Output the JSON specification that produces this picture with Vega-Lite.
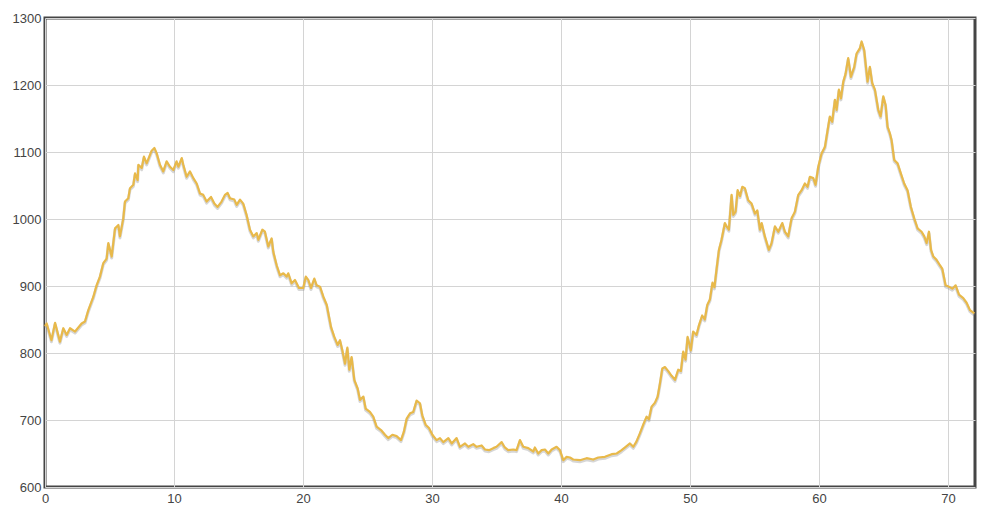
{
  "$schema": "https://vega.github.io/schema/vega-lite/v6.json",
  "width": 930,
  "height": 469,
  "autosize": "none",
  "padding": {"left": 45, "top": 18, "right": 15, "bottom": 28},
  "background": "white",
  "config": {
    "view": {"stroke": "#454545", "strokeWidth": 3},
    "axis": {
      "domain": false,
      "ticks": false,
      "grid": true,
      "gridColor": "#d4d4d4",
      "gridWidth": 1,
      "labelFont": "Liberation Sans",
      "labelFontSize": 13,
      "labelColor": "#444444",
      "title": null
    }
  },
  "data": {
    "values": [
      {"x": 0, "y": 840}, {"x": 0.13, "y": 844}, {"x": 0.5, "y": 819}, {"x": 0.78, "y": 845}, {"x": 1.16, "y": 817},
      {"x": 1.42, "y": 837}, {"x": 1.68, "y": 827}, {"x": 1.94, "y": 837}, {"x": 2.33, "y": 832}, {"x": 2.84, "y": 844},
      {"x": 3.1, "y": 847}, {"x": 3.36, "y": 864}, {"x": 3.75, "y": 884}, {"x": 4.0, "y": 901}, {"x": 4.26, "y": 914},
      {"x": 4.52, "y": 934}, {"x": 4.78, "y": 941}, {"x": 4.91, "y": 964}, {"x": 5.17, "y": 944}, {"x": 5.43, "y": 986},
      {"x": 5.69, "y": 991}, {"x": 5.81, "y": 974}, {"x": 6.07, "y": 1001}, {"x": 6.2, "y": 1026}, {"x": 6.46, "y": 1031},
      {"x": 6.59, "y": 1046}, {"x": 6.85, "y": 1051}, {"x": 6.98, "y": 1068}, {"x": 7.18, "y": 1058}, {"x": 7.24, "y": 1081},
      {"x": 7.5, "y": 1076}, {"x": 7.67, "y": 1093}, {"x": 7.88, "y": 1083}, {"x": 8.27, "y": 1102}, {"x": 8.48, "y": 1106},
      {"x": 8.66, "y": 1098}, {"x": 8.91, "y": 1081}, {"x": 9.17, "y": 1071}, {"x": 9.43, "y": 1086}, {"x": 9.69, "y": 1078},
      {"x": 9.95, "y": 1073}, {"x": 10.2, "y": 1086}, {"x": 10.34, "y": 1078}, {"x": 10.6, "y": 1091}, {"x": 10.72, "y": 1081},
      {"x": 10.98, "y": 1063}, {"x": 11.24, "y": 1071}, {"x": 11.5, "y": 1061}, {"x": 11.76, "y": 1053}, {"x": 12.02, "y": 1038},
      {"x": 12.27, "y": 1036}, {"x": 12.53, "y": 1026}, {"x": 12.87, "y": 1033}, {"x": 13.13, "y": 1023}, {"x": 13.38, "y": 1018},
      {"x": 13.69, "y": 1026}, {"x": 13.95, "y": 1036}, {"x": 14.16, "y": 1039}, {"x": 14.34, "y": 1031}, {"x": 14.68, "y": 1029},
      {"x": 14.86, "y": 1021}, {"x": 15.12, "y": 1029}, {"x": 15.37, "y": 1023}, {"x": 15.63, "y": 1006}, {"x": 15.89, "y": 984},
      {"x": 16.15, "y": 974}, {"x": 16.41, "y": 979}, {"x": 16.54, "y": 969}, {"x": 16.85, "y": 984}, {"x": 17.05, "y": 981},
      {"x": 17.31, "y": 959}, {"x": 17.57, "y": 971}, {"x": 17.7, "y": 951}, {"x": 17.96, "y": 931}, {"x": 18.22, "y": 916},
      {"x": 18.48, "y": 919}, {"x": 18.74, "y": 914}, {"x": 18.86, "y": 919}, {"x": 19.12, "y": 904}, {"x": 19.38, "y": 909},
      {"x": 19.69, "y": 897}, {"x": 20.02, "y": 897}, {"x": 20.22, "y": 914}, {"x": 20.41, "y": 909}, {"x": 20.62, "y": 897},
      {"x": 20.88, "y": 911}, {"x": 21.06, "y": 901}, {"x": 21.32, "y": 899}, {"x": 21.58, "y": 884}, {"x": 21.84, "y": 872},
      {"x": 21.97, "y": 859}, {"x": 22.17, "y": 839}, {"x": 22.43, "y": 824}, {"x": 22.69, "y": 812}, {"x": 22.87, "y": 819},
      {"x": 23.05, "y": 804}, {"x": 23.26, "y": 784}, {"x": 23.44, "y": 808}, {"x": 23.59, "y": 775}, {"x": 23.77, "y": 794},
      {"x": 23.98, "y": 760}, {"x": 24.24, "y": 747}, {"x": 24.42, "y": 730}, {"x": 24.68, "y": 735}, {"x": 24.86, "y": 717},
      {"x": 25.19, "y": 712}, {"x": 25.45, "y": 705}, {"x": 25.71, "y": 690}, {"x": 26.05, "y": 685}, {"x": 26.36, "y": 678},
      {"x": 26.61, "y": 673}, {"x": 26.93, "y": 678}, {"x": 27.26, "y": 676}, {"x": 27.6, "y": 670}, {"x": 27.83, "y": 683},
      {"x": 28.04, "y": 702}, {"x": 28.3, "y": 710}, {"x": 28.55, "y": 712}, {"x": 28.81, "y": 729}, {"x": 29.07, "y": 725},
      {"x": 29.25, "y": 707}, {"x": 29.51, "y": 693}, {"x": 29.77, "y": 688}, {"x": 30.03, "y": 678}, {"x": 30.36, "y": 670},
      {"x": 30.62, "y": 673}, {"x": 30.88, "y": 667}, {"x": 31.27, "y": 673}, {"x": 31.53, "y": 665}, {"x": 31.91, "y": 673},
      {"x": 32.17, "y": 660}, {"x": 32.56, "y": 665}, {"x": 32.82, "y": 660}, {"x": 33.2, "y": 664}, {"x": 33.46, "y": 660},
      {"x": 33.85, "y": 662}, {"x": 34.11, "y": 656}, {"x": 34.42, "y": 655}, {"x": 34.75, "y": 658}, {"x": 35.0, "y": 660},
      {"x": 35.4, "y": 667}, {"x": 35.65, "y": 659}, {"x": 35.91, "y": 655}, {"x": 36.3, "y": 656}, {"x": 36.56, "y": 655},
      {"x": 36.82, "y": 670}, {"x": 37.08, "y": 660}, {"x": 37.47, "y": 658}, {"x": 37.86, "y": 653}, {"x": 37.98, "y": 659},
      {"x": 38.24, "y": 650}, {"x": 38.5, "y": 655}, {"x": 38.76, "y": 656}, {"x": 39.02, "y": 650}, {"x": 39.28, "y": 656},
      {"x": 39.66, "y": 660}, {"x": 39.92, "y": 655}, {"x": 40.18, "y": 640}, {"x": 40.44, "y": 645}, {"x": 40.7, "y": 644},
      {"x": 40.95, "y": 641}, {"x": 41.47, "y": 640}, {"x": 41.99, "y": 643}, {"x": 42.5, "y": 641}, {"x": 42.89, "y": 644},
      {"x": 43.41, "y": 645}, {"x": 43.93, "y": 649}, {"x": 44.32, "y": 650}, {"x": 44.7, "y": 655}, {"x": 45.09, "y": 661},
      {"x": 45.35, "y": 665}, {"x": 45.61, "y": 660}, {"x": 45.86, "y": 668}, {"x": 46.12, "y": 680}, {"x": 46.38, "y": 693},
      {"x": 46.64, "y": 705}, {"x": 46.82, "y": 701}, {"x": 47.03, "y": 720}, {"x": 47.29, "y": 726}, {"x": 47.5, "y": 735},
      {"x": 47.68, "y": 755}, {"x": 47.86, "y": 777}, {"x": 48.06, "y": 779}, {"x": 48.32, "y": 773}, {"x": 48.58, "y": 766},
      {"x": 48.84, "y": 760}, {"x": 49.09, "y": 775}, {"x": 49.3, "y": 773}, {"x": 49.48, "y": 802}, {"x": 49.66, "y": 790},
      {"x": 49.82, "y": 824}, {"x": 50.07, "y": 804}, {"x": 50.25, "y": 832}, {"x": 50.51, "y": 827}, {"x": 50.71, "y": 842},
      {"x": 50.95, "y": 856}, {"x": 51.15, "y": 850}, {"x": 51.35, "y": 872}, {"x": 51.55, "y": 880}, {"x": 51.75, "y": 905},
      {"x": 51.9, "y": 898}, {"x": 52.07, "y": 926}, {"x": 52.25, "y": 954}, {"x": 52.45, "y": 969}, {"x": 52.71, "y": 994},
      {"x": 52.84, "y": 989}, {"x": 53.02, "y": 984}, {"x": 53.23, "y": 1036}, {"x": 53.36, "y": 1006}, {"x": 53.54, "y": 1011},
      {"x": 53.7, "y": 1043}, {"x": 53.88, "y": 1034}, {"x": 54.06, "y": 1048}, {"x": 54.26, "y": 1046}, {"x": 54.52, "y": 1028},
      {"x": 54.78, "y": 1023}, {"x": 55.04, "y": 1008}, {"x": 55.22, "y": 1013}, {"x": 55.43, "y": 984}, {"x": 55.56, "y": 994},
      {"x": 55.81, "y": 974}, {"x": 56.12, "y": 954}, {"x": 56.33, "y": 964}, {"x": 56.59, "y": 989}, {"x": 56.85, "y": 981},
      {"x": 57.16, "y": 994}, {"x": 57.36, "y": 981}, {"x": 57.62, "y": 974}, {"x": 57.88, "y": 1001}, {"x": 58.14, "y": 1011},
      {"x": 58.4, "y": 1036}, {"x": 58.66, "y": 1043}, {"x": 58.91, "y": 1053}, {"x": 59.12, "y": 1048}, {"x": 59.3, "y": 1063},
      {"x": 59.56, "y": 1061}, {"x": 59.74, "y": 1051}, {"x": 59.95, "y": 1078}, {"x": 60.21, "y": 1098}, {"x": 60.47, "y": 1108},
      {"x": 60.72, "y": 1138}, {"x": 60.85, "y": 1153}, {"x": 61.03, "y": 1145}, {"x": 61.24, "y": 1178}, {"x": 61.37, "y": 1163},
      {"x": 61.55, "y": 1193}, {"x": 61.71, "y": 1180}, {"x": 61.89, "y": 1205}, {"x": 62.07, "y": 1217}, {"x": 62.27, "y": 1240},
      {"x": 62.48, "y": 1212}, {"x": 62.74, "y": 1227}, {"x": 62.92, "y": 1247}, {"x": 63.18, "y": 1255}, {"x": 63.31, "y": 1265},
      {"x": 63.51, "y": 1252}, {"x": 63.62, "y": 1232}, {"x": 63.77, "y": 1205}, {"x": 63.95, "y": 1227}, {"x": 64.13, "y": 1203},
      {"x": 64.34, "y": 1193}, {"x": 64.6, "y": 1163}, {"x": 64.78, "y": 1153}, {"x": 64.99, "y": 1183}, {"x": 65.17, "y": 1170},
      {"x": 65.32, "y": 1138}, {"x": 65.5, "y": 1128}, {"x": 65.63, "y": 1118}, {"x": 65.84, "y": 1088}, {"x": 66.1, "y": 1083},
      {"x": 66.35, "y": 1068}, {"x": 66.61, "y": 1053}, {"x": 66.87, "y": 1043}, {"x": 67.13, "y": 1018}, {"x": 67.39, "y": 1001},
      {"x": 67.65, "y": 986}, {"x": 67.96, "y": 981}, {"x": 68.17, "y": 974}, {"x": 68.35, "y": 964}, {"x": 68.53, "y": 981},
      {"x": 68.69, "y": 954}, {"x": 68.87, "y": 944}, {"x": 69.12, "y": 939}, {"x": 69.38, "y": 931}, {"x": 69.56, "y": 926},
      {"x": 69.82, "y": 901}, {"x": 70.08, "y": 899}, {"x": 70.34, "y": 896}, {"x": 70.6, "y": 901}, {"x": 70.86, "y": 887},
      {"x": 71.19, "y": 882}, {"x": 71.45, "y": 875}, {"x": 71.71, "y": 864}, {"x": 72.05, "y": 859}
    ]
  },
  "encoding": {
    "x": {
      "field": "x",
      "type": "quantitative",
      "scale": {"domain": [0, 72.1], "nice": false, "zero": false},
      "axis": {"values": [0, 10, 20, 30, 40, 50, 60, 70], "format": "d", "labelPadding": 5, "labelFlush": false}
    },
    "y": {
      "field": "y",
      "type": "quantitative",
      "scale": {"domain": [600, 1300], "nice": false, "zero": false},
      "axis": {"values": [600, 700, 800, 900, 1000, 1100, 1200, 1300], "format": "d", "labelPadding": 4}
    }
  },
  "layer": [
    {
      "mark": {"type": "line", "color": "#8a8a8a", "opacity": 0.35, "strokeWidth": 3, "yOffset": 1.5, "strokeJoin": "round"}
    },
    {
      "mark": {"type": "line", "color": "#e8b94a", "strokeWidth": 2.2, "strokeJoin": "round"}
    }
  ]
}
